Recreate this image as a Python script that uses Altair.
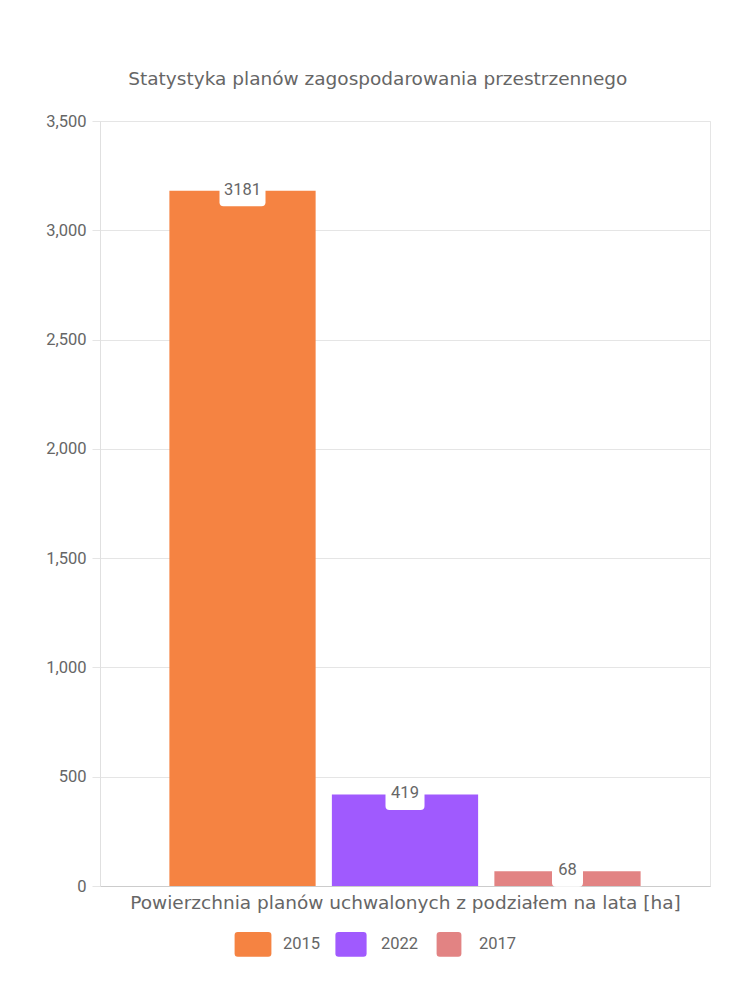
import altair as alt
import pandas as pd

years = ["2015", "2022", "2017"]
values = [3181, 419, 68]
colors = ["#f58342", "#a05afe", "#e28383"]

df = pd.DataFrame({"year": years, "value": values})

def rrect(hw, hh, r):
    return (f"M{-hw+r},{-hh} L{hw-r},{-hh} Q{hw},{-hh} {hw},{-hh+r} "
            f"L{hw},{hh-r} Q{hw},{hh} {hw-r},{hh} L{-hw+r},{hh} "
            f"Q{-hw},{hh} {-hw},{hh-r} L{-hw},{-hh+r} Q{-hw},{-hh} {-hw+r},{-hh} Z")

# label box shapes (unit = 25px since size=2500)
box_paths = [rrect(0.92, 0.62, 0.16), rrect(0.78, 0.62, 0.16), rrect(0.62, 0.62, 0.16)]
swatch_path = "M-1,-0.45 L1,-0.45 L1,0.45 L-1,0.45 Z"

FONT_T = "DejaVu Sans"
FONT_N = "Roboto"
GRAY = "#666666"

x = alt.X("year:N", sort=years,
          scale=alt.Scale(paddingInner=0.1, paddingOuter=0.427),
          axis=alt.Axis(labels=False, ticks=False, grid=False,
                        title="Powierzchnia planów uchwalonych z podziałem na lata [ha]",
                        titleFont=FONT_T, titleFontSize=18.5, titleFontWeight="normal",
                        titleColor=GRAY, titlePadding=7,
                        domainColor="#cccccc"))
y = alt.Y("value:Q",
          scale=alt.Scale(domain=[0, 3500], nice=False),
          axis=alt.Axis(values=list(range(0, 3501, 500)), format=",d", title=None,
                        labelFont=FONT_N, labelFontSize=16.5, labelColor=GRAY,
                        tickSize=8, tickColor="#e5e5e5", gridColor="#e5e5e5",
                        labelPadding=6, domainColor="#e0e0e0"))

bars = alt.Chart(df).mark_bar().encode(
    x=x, y=y,
    color=alt.Color("year:N", sort=years,
                    scale=alt.Scale(domain=years, range=colors),
                    legend=alt.Legend(title=None, orient="none", direction="horizontal",
                                      legendX=133, legendY=803,
                                      symbolType=swatch_path,
                                      symbolSize=1600, symbolStrokeWidth=0,
                                      labelFont=FONT_N, labelFontSize=16.5, labelColor=GRAY,
                                      labelOffset=10, columnPadding=10, symbolOpacity=1))
)

boxes = alt.Chart(df).mark_point(filled=True, opacity=1, size=2500, color="white").encode(
    x=alt.X("year:N", sort=years), y="value:Q",
    shape=alt.Shape("year:N", sort=years,
                    scale=alt.Scale(domain=years, range=box_paths), legend=None)
)

labels = alt.Chart(df).mark_text(font=FONT_N, fontSize=16.5, color=GRAY,
                                 baseline="middle", dy=-1).encode(
    x=alt.X("year:N", sort=years), y="value:Q", text="value:Q"
)

chart = alt.layer(bars, boxes, labels).properties(
    width=610, height=765,
    title=alt.TitleParams("Statystyka planów zagospodarowania przestrzennego",
                          font=FONT_T, fontSize=18.5, fontWeight="normal", color=GRAY,
                          anchor="middle", frame="bounds", offset=25),
    padding={"left": 92, "top": 113, "right": 32, "bottom": 100},
    autosize=alt.AutoSizeParams(type="none")
).configure_view(stroke="#e5e5e5").configure_legend(symbolType=swatch_path)

chart.save("out.html", embed_options={"renderer": "svg", "actions": False})
